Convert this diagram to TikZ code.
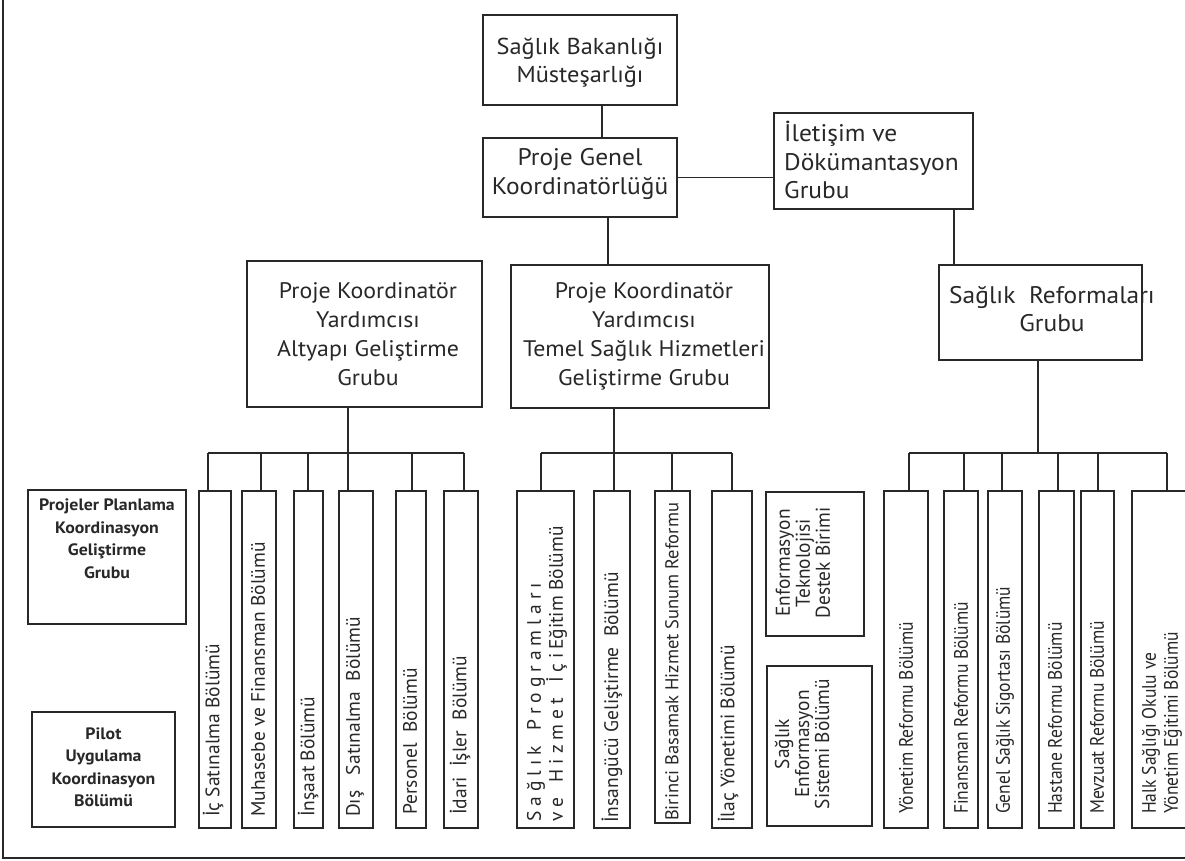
\documentclass[tikz,border=0pt]{standalone}
\usepackage{fontspec}
\setmainfont{PT Sans}
\newfontfamily\condfont[FakeStretch=0.9]{PT Sans}
\newfontfamily\centfont[FakeStretch=0.97]{PT Sans}
\newfontfamily\bigfont[FakeStretch=1.06]{PT Sans}
\newcommand{\lsp}{\hspace{5pt}}
\definecolor{ink}{RGB}{40,40,40}
\tikzset{
  box/.style={draw=ink, line width=1.3pt, rectangle, inner sep=0pt},
  conn/.style={draw=ink, line width=1.3pt},
  big/.style={text=ink, font=\bigfont\fontsize{24}{28.5}\selectfont, align=center, inner sep=0pt},
  mid/.style={text=ink, font=\bigfont\fontsize{22.5}{29}\selectfont, align=center, inner sep=0pt},
  bold/.style={text=ink, font=\fontsize{16.5}{22.5}\selectfont\bfseries\addfontfeature{FakeStretch=1.08}, align=center, inner sep=0pt},
  vlbl/.style={text=ink, font=\fontsize{19.5}{22}\selectfont, rotate=90, anchor=west, align=left, inner sep=0pt},
  vcond/.style={text=ink, font=\condfont\fontsize{19.5}{22}\selectfont, rotate=90, anchor=west, align=left, inner sep=0pt},
  vcent/.style={text=ink, font=\centfont\fontsize{20}{20}\selectfont, rotate=90, align=center, inner sep=0pt},
  child/.style={box, minimum height=337pt},
}
\begin{document}
\begin{tikzpicture}[x=1pt,y=-1pt]
\useasboundingbox (0,0) rectangle (1185,860);
\clip (0,0) rectangle (1185,860);
\fill[white] (0,0) rectangle (1185,860);
% frame
\draw[conn] (3,-10) -- (3,858) -- (1200,858);

% upper boxes
\node[box, minimum width=194pt, minimum height=90pt] (top) at (580,60) {};
\node[big, font=\bigfont\fontsize{23}{28}\selectfont] (topT) at (580,63) {Sağlık Bakanlığı\\Müsteşarlığı};
\node[box, minimum width=194pt, minimum height=79pt] (genel) at (580,177.5) {};
\node[big] (genelT) at (580,174) {Proje Genel\\Koordinatörlüğü};
\node[box, minimum width=199pt, minimum height=96pt] (ilet) at (873.5,161) {};
\node[big, align=left, anchor=west] (iletT) at (784,160) {İletişim ve\\Dökümantasyon\\Grubu};
\node[box, minimum width=235pt, minimum height=146pt] (altyapi) at (364.5,334) {};
\node[mid] (altyapiT) at (368,334) {Proje Koordinatör\\Yardımcısı\\Altyapı Geliştirme\\Grubu};
\node[box, minimum width=258pt, minimum height=143pt] (temel) at (640,336.5) {};
\node[mid] (temelT) at (644,336) {Proje Koordinatör\\Yardımcısı\\Temel Sağlık Hizmetleri\\Geliştirme Grubu};
\node[box, minimum width=203pt, minimum height=95pt] (reform) at (1040.5,312.5) {};
\node[big] (reformT) at (1052,309) {Sağlık\ \ Reformaları\\Grubu};

% left side boxes
\node[box, minimum width=158pt, minimum height=134pt] (plan) at (107,557) {};
\node[bold, anchor=north] (planT) at (107,499) {Projeler Planlama\\Koordinasyon\\Geliştirme\\Grubu};
\node[box, minimum width=143pt, minimum height=115pt] (pilot) at (103.5,769.5) {};
\node[bold] (pilotT) at (103.5,767) {Pilot\\Uygulama\\Koordinasyon\\Bölümü};

% children of Altyapi
\node[child, minimum width=32pt] (ic) at (215,659.5) {};
\node[vlbl] (icT) at (213,817) {İç Satınalma Bölümü};
\node[child, minimum width=34pt] (muh) at (259,659.5) {};
\node[vlbl] (muhT) at (258,817) {Muhasebe ve Finansman Bölümü};
\node[child, minimum width=29pt] (insaat) at (308.5,659.5) {};
\node[vlbl] (insaatT) at (308,817) {İnşaat Bölümü};
\node[child, minimum width=34pt] (dis) at (356,659.5) {};
\node[vlbl] (disT) at (355,817) {Dış\ \ \ Satınalma\ \ Bölümü};
\node[child, minimum width=30pt] (pers) at (411,659.5) {};
\node[vlbl] (persT) at (410,815) {Personel\ \ Bölümü};
\node[child, minimum width=34pt] (idari) at (461,659.5) {};
\node[vlbl] (idariT) at (460,815) {İdari\ \ İşler\ \ Bölümü};

% children of Temel
\node[child, minimum width=57pt] (sprog) at (545.5,659.5) {};
\node[vlbl] (sprogT) at (547,822) {S\lsp a\lsp ğ\lsp l\lsp ı\lsp k\lsp\lsp\ P\lsp r\lsp o\lsp g\lsp r\lsp a\lsp m\lsp l\lsp a\lsp r\lsp ı\\v\lsp e\lsp\lsp\ H\lsp i\lsp z\lsp m\lsp e\lsp t\lsp\lsp\ İ\lsp ç\lsp i\,Eğitim Bölümü};
\node[child, minimum width=36pt] (insan) at (612,659.5) {};
\node[vlbl] (insanT) at (612,823) {İnsangücü Geliştirme\ \ Bölümü};
\node[box, minimum width=35pt, minimum height=332pt] (birinci) at (672.5,657) {};
\node[vlbl, font=\fontsize{18.5}{22}\selectfont] (birinciT) at (672,821) {Birinci Basamak Hizmet Sunum Reformu};
\node[child, minimum width=40pt] (ilac) at (732,659.5) {};
\node[vlbl] (ilacT) at (728,823) {İlaç Yönetimi Bölümü};

% unconnected units
\node[box, minimum width=98pt, minimum height=144pt] (enftek) at (815,564) {};
\node[vcent] (enftekT) at (803,563) {Enformasyon\\Teknolojisi\\Destek Birimi};
\node[box, minimum width=105pt, minimum height=160pt] (sagenf) at (819.5,746) {};
\node[vcent] (sagenfT) at (802,744) {Sağlık\\Enformasyon\\Sistemi Bölümü};

% children of Reform
\node[child, minimum width=44pt] (yon) at (906,659.5) {};
\node[vcond] (yonT) at (906,814) {Yönetim Reformu Bölümü};
\node[child, minimum width=34pt] (fin) at (961,659.5) {};
\node[vcond] (finT) at (961,814) {Finansman Reformu Bölümü};
\node[child, minimum width=34pt] (gss) at (1005,659.5) {};
\node[vcond] (gssT) at (1005,814) {Genel Sağlık Sigortası Bölümü};
\node[child, minimum width=35pt] (hast) at (1056.5,659.5) {};
\node[vcond] (hastT) at (1055,814) {Hastane Reformu Bölümü};
\node[child, minimum width=33pt] (mevz) at (1097.5,659.5) {};
\node[vcond] (mevzT) at (1097,814) {Mevzuat Reformu Bölümü};
\node[child, minimum width=68pt] (halk) at (1166,659.5) {};
\node[vcond] (halkT) at (1162,814) {Halk Sağlığı Okulu ve\\Yönetim Eğitimi Bölümü};

% connector x positions
\coordinate (kTop) at (602,0);
\coordinate (kGen) at (608,0);
\coordinate (kIl) at (954,0);
\draw[conn] (top.south -| kTop) -- (genel.north -| kTop);
\draw[conn] (genel.east) -- (genel.east -| ilet.west);
\draw[conn] (genel.south -| kGen) -- (temel.north -| kGen);
\draw[conn] (ilet.south -| kIl) -- (reform.north -| kIl);

% left bus
\coordinate (L1) at (208,453);
\coordinate (L2) at (261,453);
\coordinate (L3) at (308,453);
\coordinate (L4) at (348,453);
\coordinate (L5) at (412,453);
\coordinate (L6) at (464,453);
\draw[conn] (L1) -- (L6);
\draw[conn] (altyapi.south -| L4) -- (L4 |- dis.north);
\draw[conn] (L1) -- (L1 |- ic.north);
\draw[conn] (L2) -- (L2 |- muh.north);
\draw[conn] (L3) -- (L3 |- insaat.north);
\draw[conn] (L5) -- (L5 |- pers.north);
\draw[conn] (L6) -- (L6 |- idari.north);

% middle bus
\coordinate (M1) at (541,453);
\coordinate (M2) at (614,453);
\coordinate (M3) at (672,453);
\coordinate (M4) at (732,453);
\draw[conn] (M1) -- (M4);
\draw[conn] (temel.south -| M2) -- (M2 |- insan.north);
\draw[conn] (M1) -- (M1 |- sprog.north);
\draw[conn] (M3) -- (M3 |- birinci.north);
\draw[conn] (M4) -- (M4 |- ilac.north);

% right bus
\coordinate (R0) at (1038,453);
\coordinate (R1) at (909,453);
\coordinate (R2) at (964,453);
\coordinate (R3) at (1002,453);
\coordinate (R4) at (1058,453);
\coordinate (R5) at (1098,453);
\coordinate (R6) at (1167,453);
\draw[conn] (reform.south -| R0) -- (R0);
\draw[conn] (R1) -- (R6);
\draw[conn] (R1) -- (R1 |- yon.north);
\draw[conn] (R2) -- (R2 |- fin.north);
\draw[conn] (R3) -- (R3 |- gss.north);
\draw[conn] (R4) -- (R4 |- hast.north);
\draw[conn] (R5) -- (R5 |- mevz.north);
\draw[conn] (R6) -- (R6 |- halk.north);
\end{tikzpicture}
\end{document}
